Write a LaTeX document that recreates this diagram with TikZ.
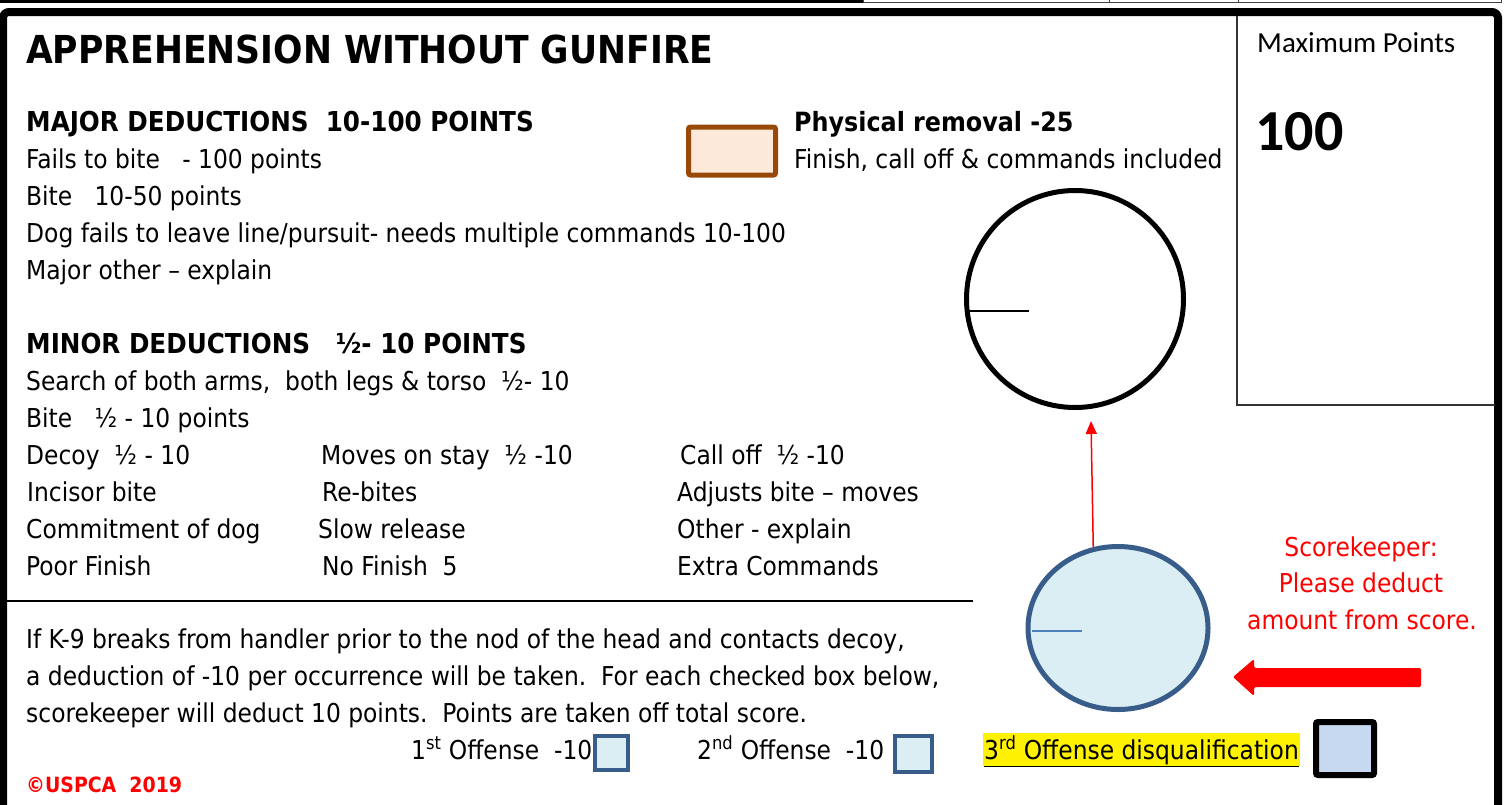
\documentclass[tikz,border=0pt]{standalone}
\usepackage{fontspec}
\setmainfont{DejaVu Sans Condensed}
\newfontfamily\calfont{Carlito}
\usetikzlibrary{shapes.geometric,arrows.meta,calc}
\definecolor{boxblue}{HTML}{385D8A}
\definecolor{lightblue}{HTML}{DBEEF4}
\definecolor{midblue}{HTML}{4F81BD}
\definecolor{brownline}{HTML}{984807}
\definecolor{peach}{HTML}{FDE9D9}
\definecolor{dqfill}{HTML}{C6D9F1}
\newcommand{\bodysz}{\fontsize{26}{30}\selectfont}
\newcommand{\hdrsz}{\fontsize{26.5}{30}\selectfont}
\tikzset{
  txt/.style={anchor=base west, inner sep=0pt, font=\bodysz},
  hdr/.style={anchor=base west, inner sep=0pt, font=\hdrsz\bfseries},
  sechdr/.style={anchor=base west, inner sep=0pt, font=\fontsize{27.4}{31}\selectfont\bfseries},
  redtxt/.style={anchor=base, inner sep=0pt, text=red, font=\bodysz},
  chk/.style={draw=boxblue, line width=4pt, fill=lightblue, rectangle, inner sep=0pt},
}
\begin{document}
\begin{tikzpicture}[x=1pt,y=-1pt]
\useasboundingbox (0,0) rectangle (1507,804);
% top strip
\fill (0,0) rectangle (863,3);
\draw[line width=1pt, black!75] (863,0) -- (863,2.5) -- (1501,2.5) -- (1501,0);
\draw[line width=1pt, black!75] (1109,0) -- (1109,2.5) (1238,0) -- (1238,2.5);
% main frame
\draw[line width=8pt, rounded corners=6pt] (3,812) -- (3,12) -- (1498,12) -- (1498,812);
% maximum points box
\draw[line width=1.2pt, black!80] (1237,16) -- (1237,405) -- (1495,405);
\node[anchor=base west, inner sep=0pt, font=\calfont\fontsize{29}{33}\selectfont] (maxlbl) at (1257,52) {Maximum Points};
\node[anchor=base west, inner sep=0pt, font=\calfont\bfseries\fontsize{58}{62}\selectfont] (maxval) at (1255,150) {100};
% title
\node[anchor=base west, inner sep=0pt, font=\fontsize{38.5}{42}\selectfont\bfseries] (title) at (26,63) {APPREHENSION WITHOUT GUNFIRE};
% major
\node[sechdr] (major) at (26,131) {MAJOR DEDUCTIONS~~10-100 POINTS};
\node[txt] (m1) at (26,168) {Fails to bite~~~- 100 points};
\node[txt] (m2) at (26,205) {Bite~~~10-50 points};
\node[txt] (m3) at (26,242) {Dog fails to leave line/pursuit- needs multiple commands 10-100};
\node[txt] (m4) at (26,279) {Major other – explain};
% physical removal
\node[rectangle, draw=brownline, fill=peach, line width=5pt, rounded corners=2pt, minimum width=87pt, minimum height=48pt, inner sep=0pt] (phys) at (732,151) {};
\node[hdr] (physl) at (794,131) {Physical removal -25};
\node[txt] (physd) at (794,168) {Finish, call off \& commands included};
% minor
\node[sechdr] (minor) at (26,353) {MINOR DEDUCTIONS~~~½- 10 POINTS};
\node[txt] (n1) at (26,390) {Search of both arms,~~both legs \& torso~~½- 10};
\node[txt] (n2) at (26,427) {Bite~~~½ - 10 points};
\node[txt] (r1a) at (26,464) {Decoy~~½ - 10};
\node[txt] (r1b) at (321,464) {Moves on stay~~½ -10};
\node[txt] (r1c) at (680,464) {Call off~~½ -10};
\node[txt] (r2a) at (27,501) {Incisor bite};
\node[txt] (r2b) at (322,501) {Re-bites};
\node[txt] (r2c) at (677,501) {Adjusts bite – moves};
\node[txt] (r3a) at (26,538) {Commitment of dog};
\node[txt] (r3b) at (318,538) {Slow release};
\node[txt] (r3c) at (677,538) {Other - explain};
\node[txt] (r4a) at (26,575) {Poor Finish};
\node[txt] (r4b) at (322,575) {No Finish~~5};
\node[txt] (r4c) at (677,575) {Extra Commands};
% divider
\draw[line width=2.5pt] (6,601) -- (973,601);
% paragraph
\node[txt] (p1) at (26,648) {If K-9 breaks from handler prior to the nod of the head and contacts decoy,};
\node[txt] (p2) at (26,685) {a deduction of -10 per occurrence will be taken.~~For each checked box below,};
\node[txt] (p3) at (26,722) {scorekeeper will deduct 10 points.~~Points are taken off total score.};
% offenses
\node[txt] (o1) at (411,759) {1\textsuperscript{st} Offense~~-10};
\node[chk, minimum width=33pt, minimum height=34pt] (cb1) at (611.5,753) {};
\node[txt] (o2) at (697,759) {2\textsuperscript{nd} Offense~~-10};
\node[chk, minimum width=37pt, minimum height=36pt] (cb2) at (913.5,754) {};
\node[anchor=base west, fill=yellow, inner xsep=1pt, inner ysep=0pt, text height=26pt, text depth=7pt, font=\bodysz] (o3) at (983,759) {\underline{3\textsuperscript{rd} Offense disqualification}};
\node[rectangle, draw=black, fill=dqfill, line width=6pt, rounded corners=2pt, minimum width=58pt, minimum height=53pt, inner sep=0pt] (cb3) at (1345,748.5) {};
% copyright
\node[anchor=base west, inner sep=0pt, text=red, font=\fontsize{21}{24}\selectfont\bfseries] (copy) at (26,792) {©USPCA~~2019};
% gauges
\node[circle, draw=black, line width=5pt, minimum size=217pt, inner sep=0pt] (gauge1) at (1075,299) {};
\draw[line width=2pt] (966,311) -- (1029,311);
\node[ellipse, draw=boxblue, fill=lightblue, line width=5pt, minimum width=180pt, minimum height=163pt, inner sep=0pt] (gauge2) at (1118,628) {};
\draw[midblue, line width=2pt] (1032,631) -- (1082,631);
\coordinate (tip) at (1091,421);
\draw[red, line width=1.5pt, -{Triangle[length=13pt,width=11pt]}] (gauge2.107) -- (tip);
% scorekeeper note
\node[redtxt] (sk1) at (1361,556) {Scorekeeper:};
\node[redtxt] (sk2) at (1361,592) {Please deduct};
\node[redtxt] (sk3) at (1362,629) {amount from score.};
\fill[red, rounded corners=1.5pt] (1421,668) -- (1254,668) -- (1254,659) -- (1233,677) -- (1254,696) -- (1254,687) -- (1421,687) -- cycle;
\end{tikzpicture}
\end{document}
